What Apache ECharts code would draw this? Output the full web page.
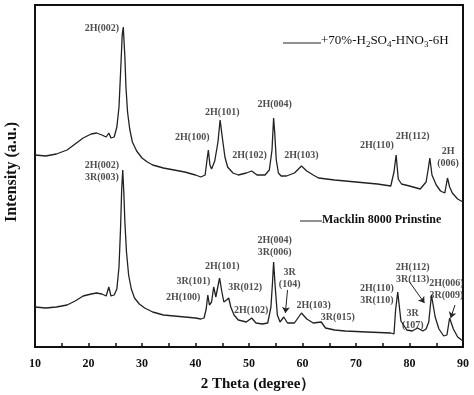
<!DOCTYPE html>
<html><head><meta charset="utf-8">
<script src="https://cdn.jsdelivr.net/npm/echarts@6/dist/echarts.min.js"></script>
<style>html,body{margin:0;padding:0;background:#fff}#c{width:474px;height:395px}</style>
</head><body><div id="c"></div>
<script>
// 2 Theta (degree) sample points, treated sample (+70%-H2SO4-HNO3-6H)
const topTheta = [10,12,14,16,17.5,19,20.5,21.5,22.5,23.3,23.8,24.2,24.8,25.3,25.7,26.0,26.3,26.5,26.8,27.0,27.3,27.7,28.2,29,30,31,32,34,36,38,40,41,41.8,42.1,42.4,42.7,43.0,43.6,44.2,44.6,45.0,45.5,46,47,48,49.5,50.5,51.5,53,53.8,54.3,54.6,54.8,55.1,55.5,56,57,58.5,59.8,60.8,62,63,66,70,74,76.5,77.1,77.5,77.9,78.5,80,82,83.1,83.5,83.8,84.2,85,85.8,86.6,87.1,87.5,88,89,90];
const topIntensity = [192,191,193,197,203,209,213,214,212,210,214,209,210,220,240,275,312,320,290,260,235,218,205,196,189,185,182,179,177,175,172,170,172,185,197,182,178,186,205,227,210,190,180,174,172,174,176,172,172,177,197,229,215,187,174,171,171,174,181,176,172,169,167,165,163,161,175,192,168,163,161,158,165,178,189,172,162,156,154,169,160,154,148,145];
// Pristine sample (Macklin 8000 Prinstine)
const botTheta = [10,12,14,16,17.5,19,20.5,21.5,22.5,23.3,23.8,24.2,24.8,25.3,25.7,26.0,26.2,26.4,26.6,26.8,27.1,27.5,28,28.6,29.5,30.5,32,34,36,38,40,41,41.6,42.0,42.3,42.6,43.0,43.4,43.8,44.1,44.5,44.9,45.3,45.8,46.2,46.6,47.2,48,49.5,50.5,51.3,52.5,53.5,54.1,54.4,54.6,54.9,55.3,55.8,56.5,57.2,58.5,59.8,60.8,62,63.5,64.3,66,68,72,76.5,77.1,77.4,77.8,78.4,79.5,80.5,81.5,82.5,83.1,83.6,84.1,84.8,85.5,86.4,87.0,87.5,88.2,89,90];
const botIntensity = [40,39,40,42,46,51,53,54,53,51,60,51,52,58,80,120,157,177,155,125,95,72,58,49,43,39,35,32,31,30,29,28,29,38,52,42,45,60,50,52,69,56,45,47,49,40,32,27,25,29,24,23,24,40,65,85,60,32,25,30,24,24,34,28,24,25,19,17,16,15,14,13,37,55,26,17,16,19,16,18,25,52,30,18,11,12,29,18,10,6,4];
// peak annotations [text, theta, intensity]
const topLabels = [["2H(002)",22.5,319],["2H(100)",39.4,210],["2H(101)",45.0,235],["2H(102)",50.1,192],["2H(004)",54.8,243],["2H(103)",59.8,192],["2H(110)",73.9,202],["2H(112)",80.6,211],["2H\n(006)",87.2,190]];
const botLabels = [["2H(002)\n3R(003)",22.5,176],["2H(100)",37.7,50],["3R(101)",39.6,66],["2H(101)",45.0,81],["3R(012)",49.3,60],["2H(102)",50.4,37],["2H(004)\n3R(006)",54.8,101],["3R\n(104)",57.6,69],["2H(103)",62.1,42],["3R(015)",66.6,30],["2H(110)\n3R(110)",73.9,53],["3R\n(107)",80.6,28],["2H(112)\n3R(113)",80.6,74],["2H(006)\n3R(009)",86.9,58]];
// arrows [[fromTheta, fromI],[toTheta,toI]]
const arrows = [[[57.2,57],[56.8,34]],[[80.0,65],[82.8,44]],[[88.5,42],[87.7,29]]];
const xTicks = [10,20,30,40,50,60,70,80,90];

const font = '"Liberation Serif","Times New Roman",serif';
function labelSeries(list){
  return {type:'scatter',silent:true,symbol:'circle',symbolSize:1,itemStyle:{color:'rgba(0,0,0,0)'},
    data:list.map(l=>({value:[l[1],l[2]],name:l[0]})),
    label:{show:true,position:'inside',formatter:p=>p.name,fontFamily:font,fontWeight:'bold',fontSize:10,color:'#222',lineHeight:12},
    z:5};
}
const chart = echarts.init(document.getElementById('c'));
chart.setOption({
  animation:false,
  grid:{left:35,right:11,top:5,bottom:48,show:true,borderColor:'#111',borderWidth:2,containLabel:false,outerBoundsMode:'none'},
  xAxis:{type:'value',min:10,max:90,interval:10,
    axisLine:{lineStyle:{color:'#111',width:2}},
    axisTick:{inside:true,length:4,lineStyle:{color:'#111',width:1.5}},
    minorTick:{show:true,splitNumber:2,length:4,lineStyle:{color:'#111',width:1.5}},
    splitLine:{show:false},
    axisLabel:{formatter:v=>xTicks.includes(v)?String(v):'',fontFamily:font,fontWeight:'bold',fontSize:12,color:'#111',margin:11},
    name:'2 Theta (degree）',nameLocation:'middle',nameGap:30,
    nameTextStyle:{fontFamily:font,fontWeight:'bold',fontSize:15,color:'#111',padding:[0,0,0,18]}},
  yAxis:{type:'value',min:0,max:342,
    axisLine:{show:true,lineStyle:{color:'#111',width:2}},
    axisTick:{show:false},axisLabel:{show:false},splitLine:{show:false},
    name:'Intensity (a.u.)',nameLocation:'middle',nameGap:15,
    nameTextStyle:{fontFamily:font,fontWeight:'bold',fontSize:16,color:'#111',padding:[0,0,0,8]}},
  series:[
    {type:'line',data:topTheta.map((t,i)=>[t,topIntensity[i]]),symbol:'none',
     lineStyle:{color:'#222',width:1.3}},
    {type:'line',data:botTheta.map((t,i)=>[t,botIntensity[i]]),symbol:'none',
     lineStyle:{color:'#222',width:1.3},
     markLine:{silent:true,symbol:['none','arrow'],symbolSize:6,label:{show:false},
       lineStyle:{color:'#222',width:1,type:'solid'},
       data:arrows.map(a=>[{coord:a[0]},{coord:a[1]}])}},
    labelSeries(topLabels),
    labelSeries(botLabels)
  ],
  graphic:[
    {type:'line',shape:{x1:283,y1:43,x2:321,y2:43},style:{stroke:'#222',lineWidth:1}},
    {type:'text',left:321,top:34,style:{rich:{n:{fontFamily:font,fontSize:13,fill:'#111'},s:{fontFamily:font,fontSize:9,fill:'#111',padding:[8,0,0,0]}},
      text:'{n|+70%-H}{s|2}{n|SO}{s|4}{n|-HNO}{s|3}{n|-6H}'}},
    {type:'line',shape:{x1:300,y1:221,x2:322,y2:221},style:{stroke:'#222',lineWidth:1}},
    {type:'text',left:322,top:214,style:{text:'Macklin 8000 Prinstine',font:'bold 12px '+font,fill:'#111'}}
  ]
});
</script></body></html>
